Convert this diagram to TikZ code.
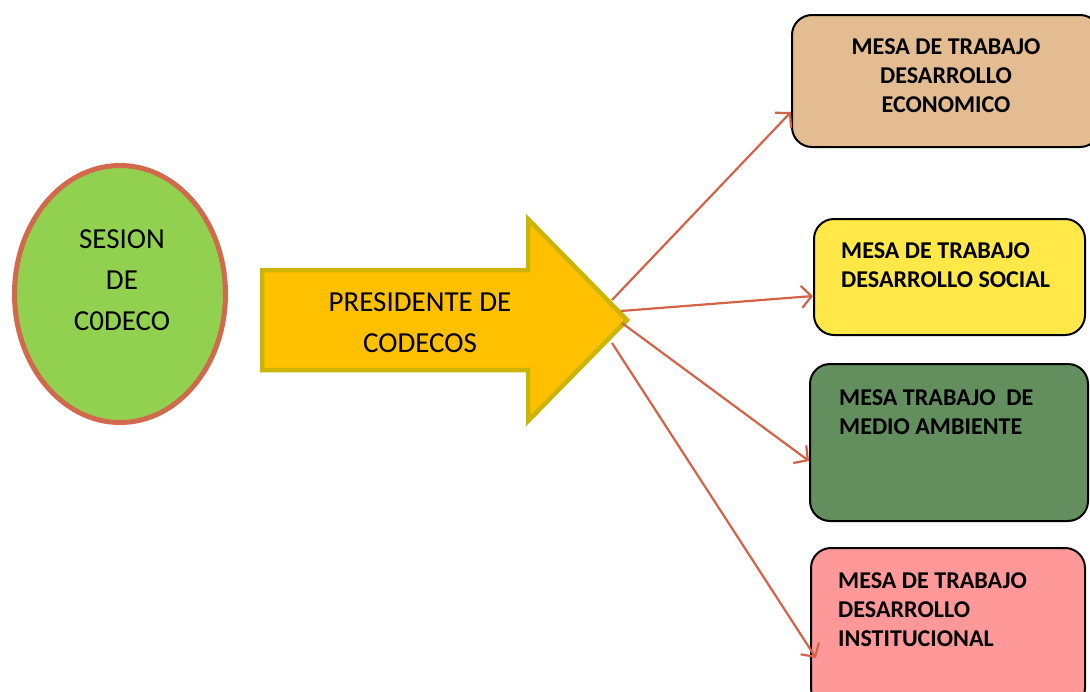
\documentclass[tikz,border=0pt]{standalone}
\usepackage{fontspec}
\setmainfont{Carlito}
\usetikzlibrary{arrows.meta,calc,shapes.geometric}
\definecolor{ellfill}{RGB}{146,208,80}
\definecolor{ellborder}{RGB}{210,104,76}
\definecolor{arrfill}{RGB}{255,192,0}
\definecolor{arrborder}{RGB}{204,180,0}
\definecolor{conncol}{RGB}{212,98,70}
\definecolor{ecofill}{RGB}{227,188,146}
\definecolor{socfill}{RGB}{255,232,72}
\definecolor{medfill}{RGB}{99,142,94}
\definecolor{insfill}{RGB}{255,153,153}
\tikzset{
  mesabox/.style={draw=black, line width=2pt, rounded corners=20pt, inner sep=0pt},
  mesatext/.style={font=\bfseries\fontsize{24.1}{28.8}\selectfont, inner sep=0pt, align=left, anchor=north west},
  bigtext/.style={font=\fontsize{29}{41}\selectfont, inner sep=0pt, align=center},
  conn/.style={draw=conncol, line width=2.2pt, -{Straight Barb[length=10pt,width=22pt,line width=2.2pt]}}
}
\begin{document}
\begin{tikzpicture}[x=1pt,y=-1pt]
\useasboundingbox (0,0) rectangle (1090,691);
\clip (0,0) rectangle (1090,691);
% ellipse
\node[ellipse, draw=ellborder, fill=ellfill, line width=5pt, minimum width=211pt, minimum height=257pt, inner sep=0pt] (ses) at (120,294) {};
\node[bigtext] (sestext) at (122,280) {SESION\\DE\\C0DECO};
% big arrow
\draw[fill=arrfill, draw=arrborder, line width=4.5pt, line join=miter]
  (262,270) -- (528,270) -- (528,219) -- (627,320) -- (528,421) -- (528,370) -- (262,370) -- cycle;
\node[bigtext] (pres) at (420,322.5) {PRESIDENTE DE\\CODECOS};
\coordinate (s1) at (612,300);
\coordinate (s2) at (621,311);
\coordinate (s3) at (622,323);
\coordinate (s4) at (612,343);
% boxes
\node[mesabox, fill=ecofill, minimum width=308pt, minimum height=132pt] (b1) at (946,81) {};
\node[font=\bfseries\fontsize{24.1}{28.8}\selectfont, inner sep=0pt, align=center] (t1) at (946,75.5) {MESA DE TRABAJO\\DESARROLLO\\ECONOMICO};
\node[mesabox, fill=socfill, minimum width=271pt, minimum height=116pt] (b2) at (949.5,277) {};
\node[mesatext] (t2) at (841,242.5) {MESA DE TRABAJO\\DESARROLLO SOCIAL};
\node[mesabox, fill=medfill, minimum width=278pt, minimum height=157pt] (b3) at (949,442.5) {};
\node[mesatext] (t3) at (839,389.5) {MESA TRABAJO\ \ DE\\MEDIO AMBIENTE};
\node[mesabox, fill=insfill, minimum width=274pt, minimum height=160pt] (b4) at (948,628) {};
\node[mesatext] (t4) at (838,572.5) {MESA DE TRABAJO\\DESARROLLO\\INSTITUCIONAL};
% connectors
\draw[conn] (s1) -- ($(b1.west)+(0,31)$);
\draw[conn] (s2) -- ($(b2.west)+(0,19)$);
\draw[conn] (s3) -- ($(b3.west)+(0,18.5)$);
\draw[conn] (s4) -- ($(b4.west)+(6,30)$);
\end{tikzpicture}
\end{document}
